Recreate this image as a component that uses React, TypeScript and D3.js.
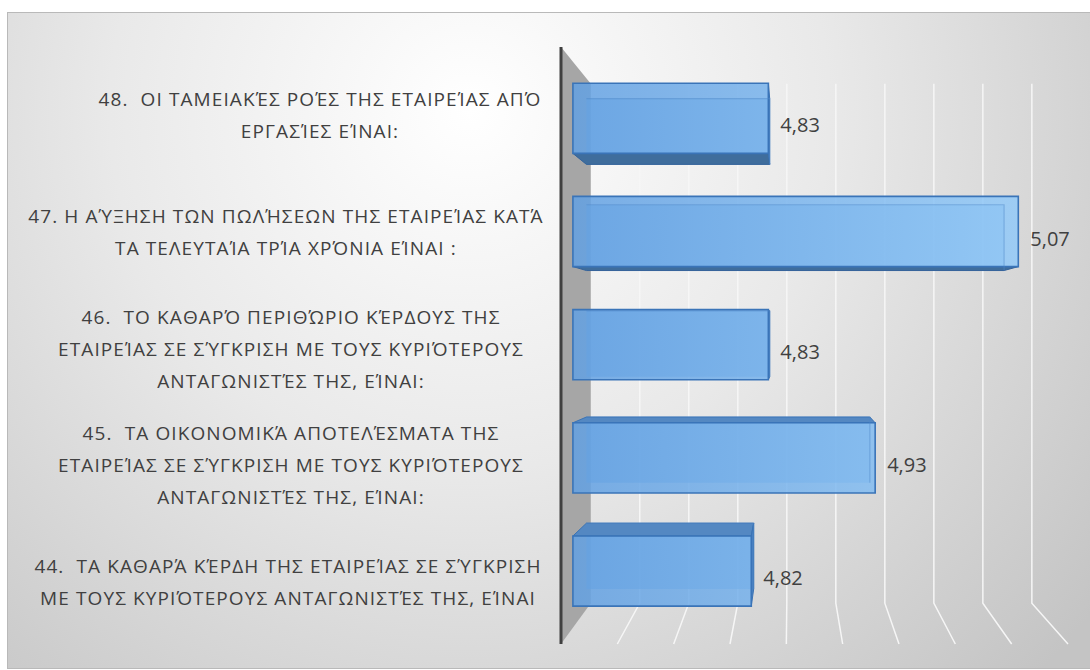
import React from "react";
import * as d3 from "d3";

// ---- data (top to bottom) ----
const categories: string[] = ["48", "47", "46", "45", "44"];
const labelLines: string[][] = [
  ["48.  ΟΙ ΤΑΜΕΙΑΚΈΣ ΡΟΈΣ ΤΗΣ ΕΤΑΙΡΕΊΑΣ ΑΠΌ", "ΕΡΓΑΣΊΕΣ ΕΊΝΑΙ:"],
  ["47. Η ΑΎΞΗΣΗ ΤΩΝ ΠΩΛΉΣΕΩΝ ΤΗΣ ΕΤΑΙΡΕΊΑΣ ΚΑΤΆ", "ΤΑ ΤΕΛΕΥΤΑΊΑ ΤΡΊΑ ΧΡΌΝΙΑ ΕΊΝΑΙ :"],
  ["46.  ΤΟ ΚΑΘΑΡΌ ΠΕΡΙΘΏΡΙΟ ΚΈΡΔΟΥΣ ΤΗΣ", "ΕΤΑΙΡΕΊΑΣ ΣΕ ΣΎΓΚΡΙΣΗ ΜΕ ΤΟΥΣ ΚΥΡΙΌΤΕΡΟΥΣ", "ΑΝΤΑΓΩΝΙΣΤΈΣ ΤΗΣ, ΕΊΝΑΙ:"],
  ["45.  ΤΑ ΟΙΚΟΝΟΜΙΚΆ ΑΠΟΤΕΛΈΣΜΑΤΑ ΤΗΣ", "ΕΤΑΙΡΕΊΑΣ ΣΕ ΣΎΓΚΡΙΣΗ ΜΕ ΤΟΥΣ ΚΥΡΙΌΤΕΡΟΥΣ", "ΑΝΤΑΓΩΝΙΣΤΈΣ ΤΗΣ, ΕΊΝΑΙ:"],
  ["44.  ΤΑ ΚΑΘΑΡΆ ΚΈΡΔΗ ΤΗΣ ΕΤΑΙΡΕΊΑΣ ΣΕ ΣΎΓΚΡΙΣΗ", "ΜΕ ΤΟΥΣ ΚΥΡΙΌΤΕΡΟΥΣ ΑΝΤΑΓΩΝΙΣΤΈΣ ΤΗΣ, ΕΊΝΑΙ"],
];
const values: number[] = [4.833, 5.067, 4.833, 4.933, 4.817];
const axisMin = 4.65;
const axisMax = 5.1;
const gridStep = 0.05;

// ---- layout ----
const W = 1090;
const H = 670;
const wallX = 561;
const plotTop = 47;
const plotBottom = 644;
const plotRight = 1068;
const cx = 790; // perspective centre
const cy = 330;
const sBack = 0.87; // back wall depth scale
const sBarFront = 0.948;
const sBarBack = 0.889;
const sLabel = 0.977;
const labelCenterX = [320, 286, 291, 291, 288];

const proj = (X: number, Y: number, s: number): [number, number] => [
  cx + s * (X - cx),
  cy + s * (Y - cy),
];
const poly = (pts: [number, number][]) =>
  pts.map((p) => `${p[0].toFixed(2)},${p[1].toFixed(2)}`).join(" ");

export default function App() {
  const x = d3.scaleLinear().domain([axisMin, axisMax]).range([wallX, plotRight]);
  const y = d3
    .scaleBand<string>()
    .domain(categories)
    .range([plotTop, plotBottom])
    .paddingInner(0.38)
    .paddingOuter(0.19);
  const bw = y.bandwidth();
  const nTicks = Math.round((axisMax - axisMin) / gridStep);
  const ticks = d3.range(1, nTicks + 1).map((i) => axisMin + i * gridStep);
  const fmt = (v: number) => d3.format(".2f")(v).replace(".", ",");

  const wallPts: [number, number][] = [
    proj(wallX, plotTop, 1),
    proj(wallX, plotTop, sBack),
    proj(wallX, plotBottom, sBack),
    proj(wallX, plotBottom, 1),
  ];

  return (
    <svg
      width={W}
      height={H}
      style={{ position: "absolute", left: 0, top: 0 }}
      fontFamily="'Open Sans', 'Noto Sans', sans-serif"
    >
      <defs>
        <radialGradient id="bg" gradientUnits="userSpaceOnUse" cx={470} cy={110} r={800}>
          <stop offset="0" stopColor="#ffffff" />
          <stop offset="0.45" stopColor="#e9e9e9" />
          <stop offset="1" stopColor="#c4c4c4" />
        </radialGradient>
        <linearGradient id="barFront" gradientUnits="userSpaceOnUse" x1={570} y1={0} x2={1030} y2={0}>
          <stop offset="0" stopColor="#62a0e2" />
          <stop offset="1" stopColor="#94cbf9" />
        </linearGradient>
      </defs>
      <rect x={0} y={0} width={W} height={H} fill="#ffffff" />
      <rect x={7.5} y={12.5} width={W} height={656} fill="url(#bg)" stroke="#b9b9b9" strokeWidth={1} />

      {/* back wall gridlines + floor lines */}
      <g stroke="#f6f6f6" strokeWidth={1.5} fill="none">
        {ticks.map((t, i) => {
          const a = proj(x(t), plotTop, sBack);
          const b = proj(x(t), plotBottom, sBack);
          const c = proj(x(t), plotBottom, 1);
          return <polyline key={i} points={poly([a, b, c])} />;
        })}
      </g>

      {/* side wall */}
      <polygon points={poly(wallPts)} fill="#a6a6a6" />

      {/* bars */}
      {categories.map((c, i) => {
        const X0 = wallX;
        const X1 = x(values[i]);
        const Y0 = y(c)!;
        const Y1 = Y0 + bw;
        const front: [number, number][] = [proj(X0, Y0, sBarFront), proj(X1, Y0, sBarFront), proj(X1, Y1, sBarFront), proj(X0, Y1, sBarFront)];
        const back: [number, number][] = [proj(X0, Y0, sBarBack), proj(X1, Y0, sBarBack), proj(X1, Y1, sBarBack), proj(X0, Y1, sBarBack)];
        const bottom: [number, number][] = [proj(X0, Y1, sBarFront), proj(X1, Y1, sBarFront), proj(X1, Y1, sBarBack), proj(X0, Y1, sBarBack)];
        const top: [number, number][] = [proj(X0, Y0, sBarFront), proj(X1, Y0, sBarFront), proj(X1, Y0, sBarBack), proj(X0, Y0, sBarBack)];
        const end: [number, number][] = [proj(X1, Y0, sBarFront), proj(X1, Y1, sBarFront), proj(X1, Y1, sBarBack), proj(X1, Y0, sBarBack)];
        const mid = proj(X1, Y0 + bw / 2, sBarFront);
        return (
          <g key={c}>
            <polygon points={poly(back)} fill="#68a3e0" fillOpacity={0.6} />
            {Y1 < cy && <polygon points={poly(bottom)} fill="#3f6d9c" stroke="#35639a" strokeWidth={1} />}
            {Y0 > cy && <polygon points={poly(top)} fill="#5488c2" stroke="#3b73b4" strokeWidth={1} />}
            {X1 < cx && <polygon points={poly(end)} fill="#4a82c2" stroke="#3b73b4" strokeWidth={1} />}
            <polygon points={poly(front)} fill="url(#barFront)" fillOpacity={0.85} stroke="#3a74b8" strokeWidth={1.6} />
            <polyline
              points={poly([proj(X0, Y0, sBarBack), proj(X1, Y0, sBarBack), proj(X1, Y1, sBarBack)])}
              fill="none"
              stroke="#4d88c8"
              strokeOpacity={0.45}
              strokeWidth={1.2}
            />
            <text x={mid[0] + 12} y={mid[1] + 7} dy="0.35em" fontSize={20} fill="#404040">
              {fmt(values[i])}
            </text>
          </g>
        );
      })}

      {/* axis line */}
      <line x1={wallX} y1={plotTop} x2={wallX} y2={plotBottom} stroke="#404040" strokeWidth={3} />

      {/* category labels */}
      {categories.map((c, i) => {
        const lines = labelLines[i];
        const center = proj(0, y(c)! + bw / 2, sLabel)[1] + 4;
        const lh = 32;
        const start = center - ((lines.length - 1) * lh) / 2;
        return (
          <text
            key={c}
            fontSize={19}
            letterSpacing={1.1}
            fill="#404040"
            textAnchor="middle"
            style={{ whiteSpace: "pre" }}
          >
            {lines.map((l, j) => (
              <tspan key={j} x={labelCenterX[i]} y={start + j * lh} dy="0.35em">
                {l}
              </tspan>
            ))}
          </text>
        );
      })}
    </svg>
  );
}
